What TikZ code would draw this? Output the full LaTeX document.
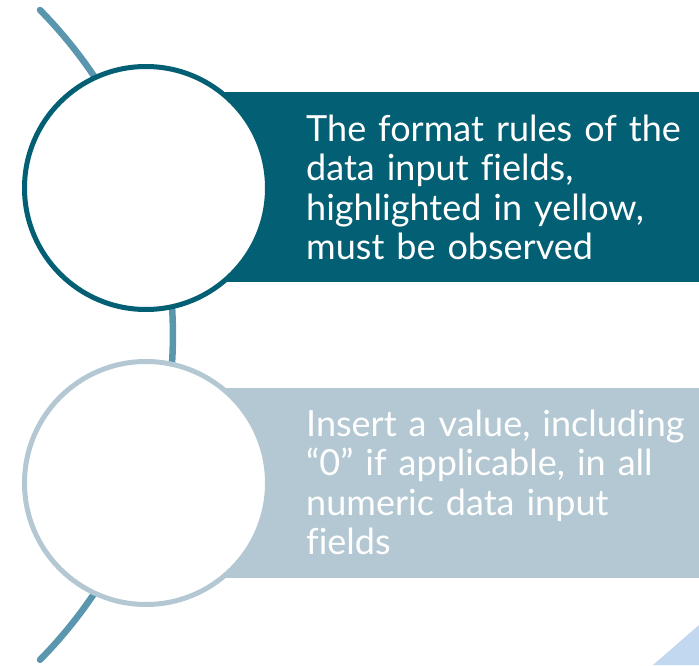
\documentclass[tikz,border=0pt]{standalone}
\usepackage{fontspec}
\setmainfont{Lato}[Ligatures=NoCommon, WordSpace=0.9]
\definecolor{tealdark}{HTML}{035F73}
\definecolor{steelpale}{HTML}{B4C8D3}
\definecolor{arcblue}{HTML}{5A96AE}
\definecolor{cornerblue}{HTML}{C2D7F0}
\tikzset{
  bullet/.style={circle, draw, line width=5pt, fill=white, inner sep=0pt, minimum size=243pt},
  panel/.style={rectangle, inner sep=0pt, minimum width=524pt, minimum height=190pt},
  panetext/.style={anchor=west, inner sep=0pt, text=white, align=left, text width=420pt,
    font=\fontsize{36}{39.5}\selectfont}
}

\begin{document}
\begin{tikzpicture}[x=1pt,y=1pt]
            \useasboundingbox (0,0) rectangle (699,665);
            \draw[arcblue, line width=6.5pt, line cap=round] (40,655) arc[start angle=44.5, end angle=-44.5, radius=463.6];
            \node[panel, fill=tealdark] (bar1) at (437,477.5) {};
            \node[panel, fill=steelpale] (bar2) at (437,182.5) {};
            \node[bullet, draw=tealdark] (dot1) at (146,477) {};
            \node[bullet, draw=steelpale] (dot2) at (146,182) {};
            \node[panetext] (txt1) at (306,477.5) {The format rules of the\\data input fields,\\highlighted in yellow,\\must be observed};
            \node[panetext] (txt2) at (306,182.5) {Insert a value, including\\“0” if applicable, in all\\numeric data input\\fields};
            \fill[cornerblue] (653,0) -- (699,0) -- (699,40) -- cycle;
        \end{tikzpicture}
\end{document}
